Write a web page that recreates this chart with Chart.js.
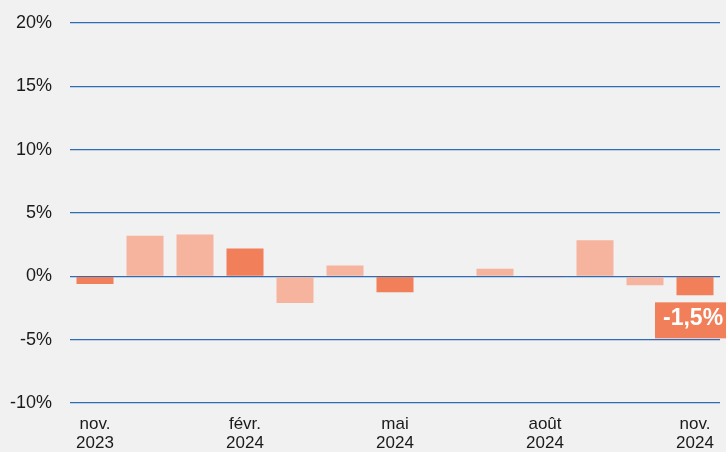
<!DOCTYPE html>
<html><head><meta charset="utf-8">
<script src="https://cdn.jsdelivr.net/npm/chart.js@4"></script>
<style>html,body{margin:0;padding:0;background:#f1f1f1;}#wrap{width:726px;height:452px;}</style>
</head><body><div id="wrap"><canvas id="c"></canvas></div>
<script>
const months = ["nov. 2023","déc. 2023","janv. 2024","févr. 2024","mars 2024","avr. 2024","mai 2024","juin 2024","juil. 2024","août 2024","sept. 2024","oct. 2024","nov. 2024"];
const values = [-0.6, 3.2, 3.3, 2.2, -2.1, 0.85, -1.25, 0.0, 0.6, -0.1, 2.85, -0.7, -1.5];
const highlighted = [true,false,false,true,false,false,true,false,false,false,false,false,true];
const shownTicks = [0,3,6,9,12];
const yTicks = [-10,-5,0,5,10,15,20];
const lastLabel = "-1,5%";
const DARK = "#f07f5a", LIGHT = "#f6b39d";

const labelPlugin = {
  id: 'lastLabel',
  afterDatasetsDraw(chart) {
    const ctx = chart.ctx;
    const meta = chart.getDatasetMeta(0);
    const bar = meta.data[values.length-1];
    const x = bar.x, yb = bar.y;
    ctx.save();
    ctx.fillStyle = DARK;
    ctx.fillRect(x-40, yb+7, 80, 36);
    ctx.fillStyle = "#ffffff";
    ctx.font = "bold 23px 'Liberation Sans', Arial, sans-serif";
    ctx.textBaseline = "middle";
    ctx.textAlign = "left";
    ctx.fillText(lastLabel, x-32, yb+23);
    ctx.restore();
  }
};

new Chart(document.getElementById('c'), {
  type: 'bar',
  data: {
    labels: months,
    datasets: [{
      data: values,
      backgroundColor: highlighted.map(h => h ? DARK : LIGHT),
      borderWidth: 0,
      barPercentage: 0.74,
      categoryPercentage: 1.0
    }]
  },
  options: {
    responsive: true, maintainAspectRatio: false, animation: false,
    devicePixelRatio: 1,
    layout: { padding: { top: 23, right: 6, left: 0, bottom: 0 } },
    plugins: { legend: { display: false }, tooltip: { enabled: false } },
    scales: {
      x: {
        grid: { display: false },
        border: { display: false },
        ticks: {
          autoSkip: false, maxRotation: 0, minRotation: 0,
          color: "#1a1a1a", padding: 4,
          font: { family: "'Liberation Sans', Arial, sans-serif", size: 17, lineHeight: 1.12 },
          callback: (v, i) => shownTicks.includes(i) ? months[i].split(' ') : ''
        },
        afterFit(s) { s.height = 49; }
      },
      y: {
        min: -10, max: 20,
        afterBuildTicks(s) { s.ticks = yTicks.map(v => ({ value: v })); },
        grid: { color: "#2e6db4", lineWidth: 1.2, drawTicks: false },
        border: { display: false },
        ticks: {
          color: "#1a1a1a", padding: 18,
          font: { family: "'Liberation Sans', Arial, sans-serif", size: 18 },
          callback: v => v + "%"
        },
        afterFit(s) { s.width = 70; s.paddingTop = 0; s.paddingBottom = 0; }
      }
    }
  },
  plugins: [labelPlugin]
});
</script></body></html>
